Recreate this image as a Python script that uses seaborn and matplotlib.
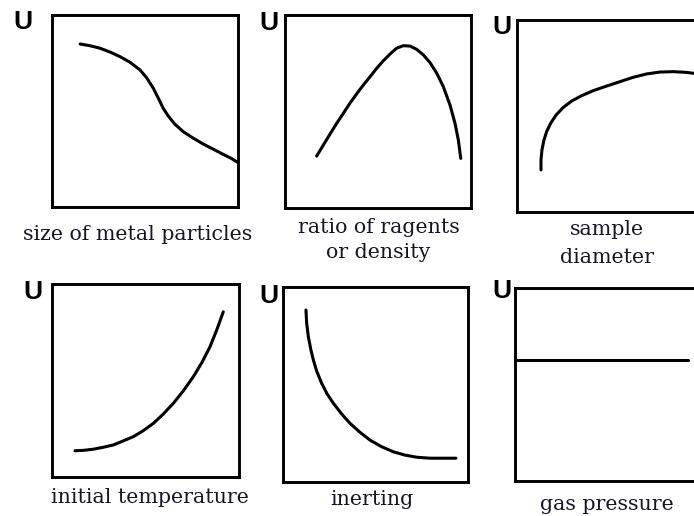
import matplotlib
matplotlib.use("Agg")
import matplotlib.pyplot as plt
import seaborn as sns
import pandas as pd

sns.set_style("white")
plt.rcParams['font.family'] = ['DejaVu Serif', 'Liberation Serif']

W, H = 694, 516

# ---- data (x, y in 0..1 of each box) ----
p1_x = [0.151, 0.204, 0.258, 0.312, 0.366, 0.419, 0.473, 0.509, 0.545, 0.572, 0.598,
        0.625, 0.661, 0.706, 0.760, 0.813, 0.867, 0.921, 0.966, 1.000]
p1_y = [0.849, 0.840, 0.827, 0.807, 0.783, 0.754, 0.714, 0.673, 0.618, 0.566, 0.514,
        0.474, 0.431, 0.392, 0.358, 0.328, 0.301, 0.274, 0.252, 0.231]

p2_x = [0.170, 0.206, 0.242, 0.278, 0.314, 0.349, 0.385, 0.421, 0.457, 0.493, 0.528, 0.565,
        0.600, 0.636, 0.672, 0.708, 0.744, 0.780, 0.816, 0.851, 0.887, 0.914, 0.932, 0.945]
p2_y = [0.269, 0.326, 0.383, 0.439, 0.491, 0.543, 0.591, 0.637, 0.680, 0.724, 0.762, 0.798,
        0.828, 0.841, 0.839, 0.822, 0.793, 0.753, 0.698, 0.629, 0.534, 0.439, 0.352, 0.257]

p3_x = [0.129, 0.129, 0.134, 0.145, 0.159, 0.181, 0.210, 0.249, 0.294, 0.348, 0.410,
        0.482, 0.554, 0.626, 0.697, 0.769, 0.841, 0.913, 0.952]
p3_y = [0.219, 0.271, 0.323, 0.375, 0.418, 0.462, 0.505, 0.545, 0.578, 0.606, 0.632,
        0.656, 0.679, 0.702, 0.719, 0.729, 0.731, 0.727, 0.722]

p4_x = [0.123, 0.168, 0.221, 0.274, 0.328, 0.381, 0.435, 0.488, 0.542, 0.595, 0.649,
        0.702, 0.756, 0.801, 0.845, 0.881, 0.916]
p4_y = [0.136, 0.138, 0.144, 0.154, 0.166, 0.187, 0.209, 0.240, 0.278, 0.326, 0.382,
        0.446, 0.520, 0.592, 0.675, 0.762, 0.856]

p5_x = [0.124, 0.128, 0.137, 0.150, 0.164, 0.182, 0.209, 0.239, 0.272, 0.317, 0.362,
        0.416, 0.470, 0.533, 0.596, 0.659, 0.723, 0.795, 0.867, 0.935]
p5_y = [0.882, 0.814, 0.745, 0.681, 0.626, 0.569, 0.506, 0.451, 0.404, 0.349, 0.301,
        0.255, 0.215, 0.181, 0.155, 0.138, 0.127, 0.122, 0.122, 0.122]

p6_x = [0.0, 0.93]
p6_y = [0.627, 0.627]

labels = [["size of metal particles"], ["ratio of ragents", "or density"], ["sample", "diameter"],
          ["initial temperature"], ["inerting"], ["gas pressure"]]
y_label = "U"

# ---- layout (pixel boxes: left, top, right, bottom) ----
boxes = [(52, 15, 238, 207), (285, 15, 471, 208), (517, 20, 703, 212),
         (52, 284, 239, 477), (283, 287, 468, 482), (515, 288, 701, 481)]
label_x = [137.5, 378.5, 607, 150, 372, 607]
label_base = [[240], [233, 258], [235, 263], [503], [505], [510]]
u_pos = [(23, 22), (269, 23), (502, 27), (33, 292), (269, 296), (502, 291)]

series = [(p1_x, p1_y), (p2_x, p2_y), (p3_x, p3_y), (p4_x, p4_y), (p5_x, p5_y), (p6_x, p6_y)]

fig = plt.figure(figsize=(W / 100, H / 100), dpi=100)
fig.patch.set_facecolor("white")

for i, ((l, t, r, b), (xs, ys)) in enumerate(zip(boxes, series)):
    ax = fig.add_axes([l / W, 1 - b / H, (r - l) / W, (b - t) / H])
    df = pd.DataFrame({"x": xs, "y": ys})
    sns.lineplot(data=df, x="x", y="y", ax=ax, color="black", linewidth=2.2,
                 sort=False, estimator=None, solid_capstyle="round", solid_joinstyle="round")
    ax.set_xlim(0, 1)
    ax.set_ylim(0, 1)
    ax.set_xticks([])
    ax.set_yticks([])
    ax.set_xlabel("")
    ax.set_ylabel("")
    for s in ax.spines.values():
        s.set_visible(True)
        s.set_color("black")
        s.set_linewidth(2.1)
    ax.set_facecolor("white")

    for line, base in zip(labels[i], label_base[i]):
        fig.text(label_x[i] / W, 1 - base / H, line, ha="center", va="baseline",
                 fontsize=14.8, color="#14142a")
    ux, uy = u_pos[i]
    fig.text(ux / W, 1 - uy / H, y_label, ha="center", va="center",
             fontsize=19, fontweight="bold", color="black", family=["Liberation Sans", "DejaVu Sans"])

fig.savefig("out.png", dpi=100, facecolor="white")
